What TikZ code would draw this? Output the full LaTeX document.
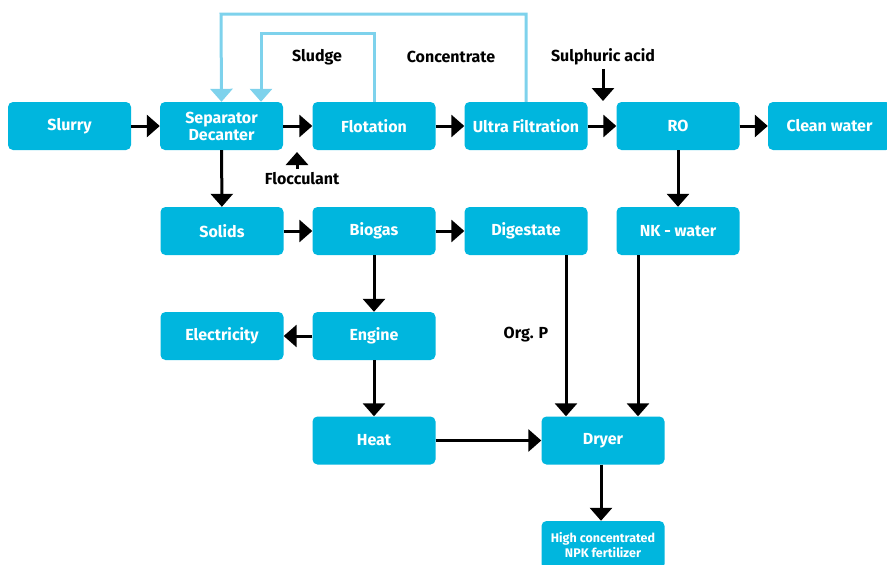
\documentclass[tikz,border=0pt]{standalone}
\usepackage{fontspec}
\setmainfont{Fira Sans}
\usetikzlibrary{arrows.meta}
\definecolor{boxblue}{HTML}{00B6DE}
\definecolor{feedblue}{HTML}{7ED2EC}
\tikzset{
  stage/.style={rectangle, rounded corners=5pt, fill=boxblue, text=white,
    minimum width=123pt, minimum height=48pt, inner sep=0pt, align=center,
    font=\fontsize{16}{19}\selectfont\bfseries},
  tag/.style={font=\fontsize{16}{19}\selectfont\bfseries},
  flow/.style={line width=3pt, -{Triangle[width=22pt,length=13pt]}},
  feed/.style={flow, draw=feedblue, color=feedblue}
}
\begin{document}
\begin{tikzpicture}[x=1pt,y=-1pt]
  \useasboundingbox (0,0) rectangle (887,565);
  % first row
  \node[stage] (slurry) at (69.5,126) {Slurry};
  \node[stage] (sep) at (221.5,126) {Separator\\[-2pt]Decanter};
  \node[stage] (flot) at (374,126) {Flotation};
  \node[stage] (uf) at (526,126) {Ultra Filtration};
  \node[stage] (ro) at (678,126) {RO};
  \node[stage] (clean) at (829.5,126) {Clean water};
  % second row
  \node[stage] (solids) at (222,231) {Solids};
  \node[stage] (biogas) at (374,231) {Biogas};
  \node[stage] (dig) at (526,231) {Digestate};
  \node[stage] (nk) at (678,231) {NK - water};
  % lower rows
  \node[stage] (elec) at (222,336) {Electricity};
  \node[stage] (engine) at (374,336) {Engine};
  \node[stage] (heat) at (374,440.5) {Heat};
  \node[stage] (dryer) at (603,440.5) {Dryer};
  \node[stage, font=\fontsize{12.5}{15}\selectfont\bfseries] (npk) at (603,545) {High concentrated\\NPK fertilizer};
  % labels
  \node[tag] (sludge) at (317,57) {Sludge};
  \node[tag] (conc) at (451,57) {Concentrate};
  \node[tag] (acid) at (603,57) {Sulphuric acid};
  \node[tag] (floc) at (302,179) {Flocculant};
  \node[tag] (orgp) at (526,335) {Org. P};
  \coordinate (acidtip) at (603,101);
  \coordinate (flocbase) at (297,169);
  \coordinate (floctip) at (297,152);
  \coordinate (topa) at (221,14);
  \coordinate (topb) at (261,33);
  % feedback lines
  \draw[feed] (uf.north) |- (topa) -- (sep.north);
  \draw[feed] (flot.north) |- (topb) -- (topb |- sep.north);
  % main flows
  \draw[flow] (slurry) -- (sep);
  \draw[flow] (sep) -- (flot);
  \draw[flow] (flot) -- (uf);
  \draw[flow] (uf) -- (ro);
  \draw[flow] (ro) -- (clean);
  \draw[flow] (acid.south) -- (acidtip);
  \draw[flow] (flocbase) -- (floctip);
  \draw[flow] (sep) -- (solids);
  \draw[flow] (ro) -- (nk);
  \draw[flow] (solids) -- (biogas);
  \draw[flow] (biogas) -- (dig);
  \draw[flow] (biogas) -- (engine);
  \draw[flow] (engine) -- (elec);
  \draw[flow] (engine) -- (heat);
  \draw[flow] (heat) -- (dryer);
  \draw[flow] ([xshift=40pt]dig.south) -- ([xshift=40pt]dig.south |- dryer.north);
  \draw[flow] ([xshift=-40pt]nk.south) -- ([xshift=-40pt]nk.south |- dryer.north);
  \draw[flow] ([xshift=-2pt]dryer.south) -- ([xshift=-2pt]npk.north);
\end{tikzpicture}
\end{document}
